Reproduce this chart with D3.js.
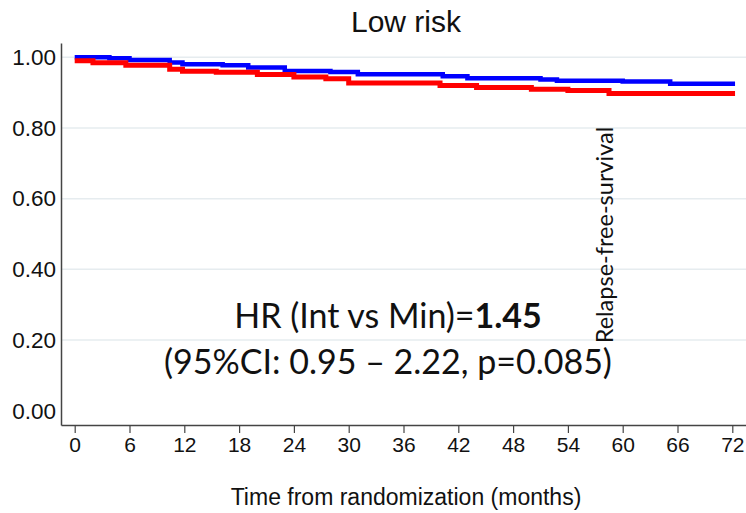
<!DOCTYPE html>
<html>
<head>
<meta charset="utf-8">
<script src="https://cdn.jsdelivr.net/npm/d3@7"></script>
<style>
  body { margin: 0; background: #fff; }
  svg { display: block; }
  .xaxis text { font-family: "Liberation Sans Narrow", "Arial Narrow", sans-serif; font-size: 21px; fill: #111; }
  .yaxis text { font-family: "Liberation Sans", Arial, sans-serif; font-size: 22.5px; fill: #111; }
</style>
</head>
<body>
<div id="chart"></div>
<script>
const width = 746, height = 513;

// Kaplan-Meier step values
const intMonths = [0, 3.8, 6, 10.4, 11.8, 16.2, 19, 23, 28, 31, 40.3, 43, 51, 52.8, 60, 65.2, 72.3];
const intSurv   = [1.0, 0.997, 0.992, 0.985, 0.980, 0.977, 0.971, 0.961, 0.958, 0.952, 0.946, 0.940, 0.937, 0.933, 0.931, 0.925, 0.925];
const minMonths = [0, 2, 5.6, 10.4, 11.8, 15.5, 20, 24, 27.5, 30, 40, 44, 50, 54, 58.5, 72.3];
const minSurv   = [0.990, 0.984, 0.977, 0.966, 0.960, 0.957, 0.951, 0.944, 0.939, 0.927, 0.920, 0.914, 0.909, 0.906, 0.897, 0.897];

const xTicks = d3.range(0, 73, 6);
const yTicks = [0, 0.2, 0.4, 0.6, 0.8, 1.0];
const gridTicks = [0.2, 0.4, 0.6, 0.8, 1.0];

const svg = d3.select("#chart")
    .append("svg")
    .attr("width", width)
    .attr("height", height);

const x = d3.scaleLinear().domain([-1.5, 73.5]).range([61, 746]);
const y = d3.scaleLinear().domain([-0.04, 1.04]).range([425, 43]);

// gridlines
svg.append("g")
    .selectAll("line")
    .data(gridTicks)
    .enter()
    .append("line")
    .attr("x1", x(-1.5))
    .attr("x2", x(73.5))
    .attr("y1", d => y(d))
    .attr("y2", d => y(d))
    .attr("stroke", "#e6ecef")
    .attr("stroke-width", 1.5);

// y axis
const yAxis = svg.append("g")
    .attr("class", "yaxis")
    .attr("transform", `translate(${x(-1.5)},0)`)
    .call(d3.axisLeft(y).tickValues(yTicks).tickFormat(d3.format(".2f")).tickSize(0).tickPadding(5).tickSizeOuter(0));
yAxis.select(".domain").attr("stroke", "#444").attr("stroke-width", 1.5);

// x axis
const xAxis = svg.append("g")
    .attr("class", "xaxis")
    .attr("transform", `translate(0,${y(-0.04)})`)
    .call(d3.axisBottom(x).tickValues(xTicks).tickFormat(d3.format("d")).tickSize(8).tickPadding(4).tickSizeOuter(0));
xAxis.select(".domain").attr("stroke", "#444").attr("stroke-width", 1.5);
xAxis.selectAll(".tick line").attr("stroke", "#444").attr("stroke-width", 1.2);

// survival curves
const line = d3.line()
    .x(d => x(d[0]))
    .y(d => y(d[1]))
    .curve(d3.curveStepAfter);

svg.append("path")
    .datum(d3.zip(intMonths, intSurv))
    .attr("fill", "none")
    .attr("stroke", "#0000ff")
    .attr("stroke-width", 4.5)
    .attr("d", line);

svg.append("path")
    .datum(d3.zip(minMonths, minSurv))
    .attr("fill", "none")
    .attr("stroke", "#ff0000")
    .attr("stroke-width", 5)
    .attr("d", line);

// title
svg.append("text")
    .attr("x", 406)
    .attr("y", 32)
    .attr("text-anchor", "middle")
    .style("font-family", "'Liberation Sans', Arial, sans-serif")
    .style("font-size", "30px")
    .style("fill", "#111")
    .text("Low risk");

// x axis title
svg.append("text")
    .attr("x", 406)
    .attr("y", 505)
    .attr("text-anchor", "middle")
    .style("font-family", "'Liberation Sans Narrow', 'Arial Narrow', sans-serif")
    .style("font-size", "23px")
    .style("fill", "#111")
    .text("Time from randomization (months)");

// hazard ratio annotation
const hr = svg.append("text")
    .attr("x", 388)
    .attr("y", 328)
    .attr("text-anchor", "middle")
    .style("font-family", "Lato, 'Open Sans', sans-serif")
    .style("font-size", "34px")
    .style("fill", "#111");
hr.append("tspan").text("HR (Int vs Min)=");
hr.append("tspan").style("font-weight", "bold").text("1.45");

svg.append("text")
    .attr("x", 388)
    .attr("y", 374)
    .attr("text-anchor", "middle")
    .style("font-family", "Lato, 'Open Sans', sans-serif")
    .style("font-size", "34px")
    .style("fill", "#111")
    .text("(95%CI: 0.95 \u2013 2.22, p=0.085)");

// rotated label
svg.append("text")
    .attr("transform", "translate(613,235) rotate(-90)")
    .attr("text-anchor", "middle")
    .style("font-family", "Lato, 'Open Sans', sans-serif")
    .style("font-size", "23.5px")
    .style("fill", "#111")
    .text("Relapse-free-survival");
</script>
</body>
</html>
